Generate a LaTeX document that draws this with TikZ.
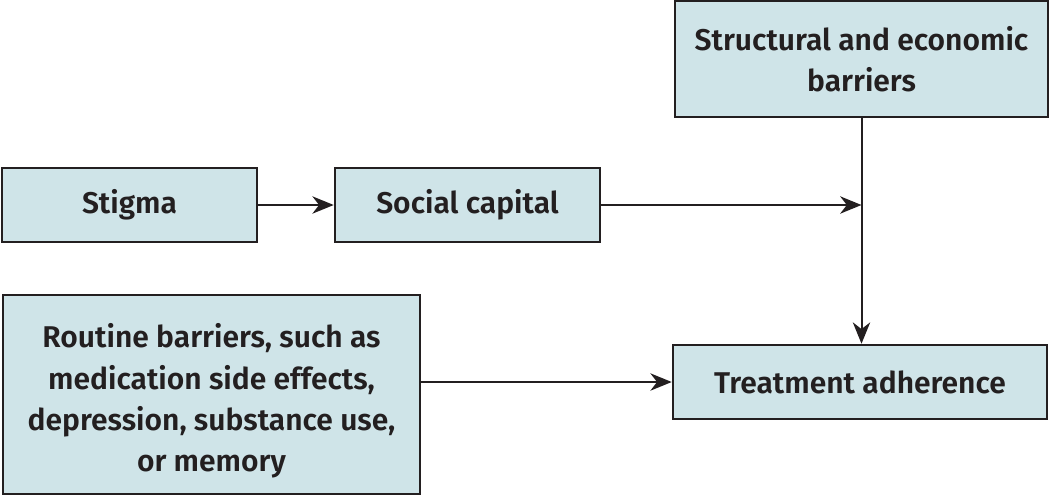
\documentclass[tikz,border=0pt]{standalone}
\usepackage{fontspec}
\setmainfont{Fira Sans}[BoldFont={Fira Sans SemiBold}]
\usetikzlibrary{arrows.meta}
\definecolor{boxfill}{HTML}{CFE4E8}
\definecolor{ink}{HTML}{231F20}
\begin{document}
\begin{tikzpicture}[x=0.75pt,y=-0.75pt,
  boxtext/.style={inner sep=0pt, text=ink, align=center,
    font=\fontsize{22.5}{31}\selectfont\bfseries},
  box/.style={boxtext, draw=ink, line width=1.9pt, fill=boxfill, rectangle},
  conn/.style={draw=ink, line width=1.5pt, -{Stealth[length=16pt,width=13pt,inset=5pt]}}]
\useasboundingbox (0,0) rectangle (1050,497);
\node[box, minimum width=279.75pt, minimum height=87pt] (struct) at (861.5,59) {Structural and economic\\barriers};
\node[box, minimum width=191.25pt, minimum height=55.5pt] (stigma) at (129.5,205) {Stigma};
\node[box, minimum width=198.75pt, minimum height=55.5pt] (social) at (467.5,205) {Social capital};
\node[box, minimum width=312.75pt, minimum height=149.25pt] (routine) at (211.5,394.5) {};
\node[boxtext] (routinetext) at ([yshift=-5pt]routine.center) {Routine barriers, such as\\medication side effects,\\depression, substance use,\\or memory};
\node[box, minimum width=280.5pt, minimum height=55.5pt] (treat) at (860,382) {Treatment adherence};
\coordinate (join) at (struct.south |- social.east);
\draw[conn] (stigma.east) -- (social.west);
\draw[conn] (social.east) -- (join);
\draw[conn] (struct.south) -- (struct.south |- treat.north);
\draw[conn] (routine.east |- treat.west) -- (treat.west);
\end{tikzpicture}
\end{document}
